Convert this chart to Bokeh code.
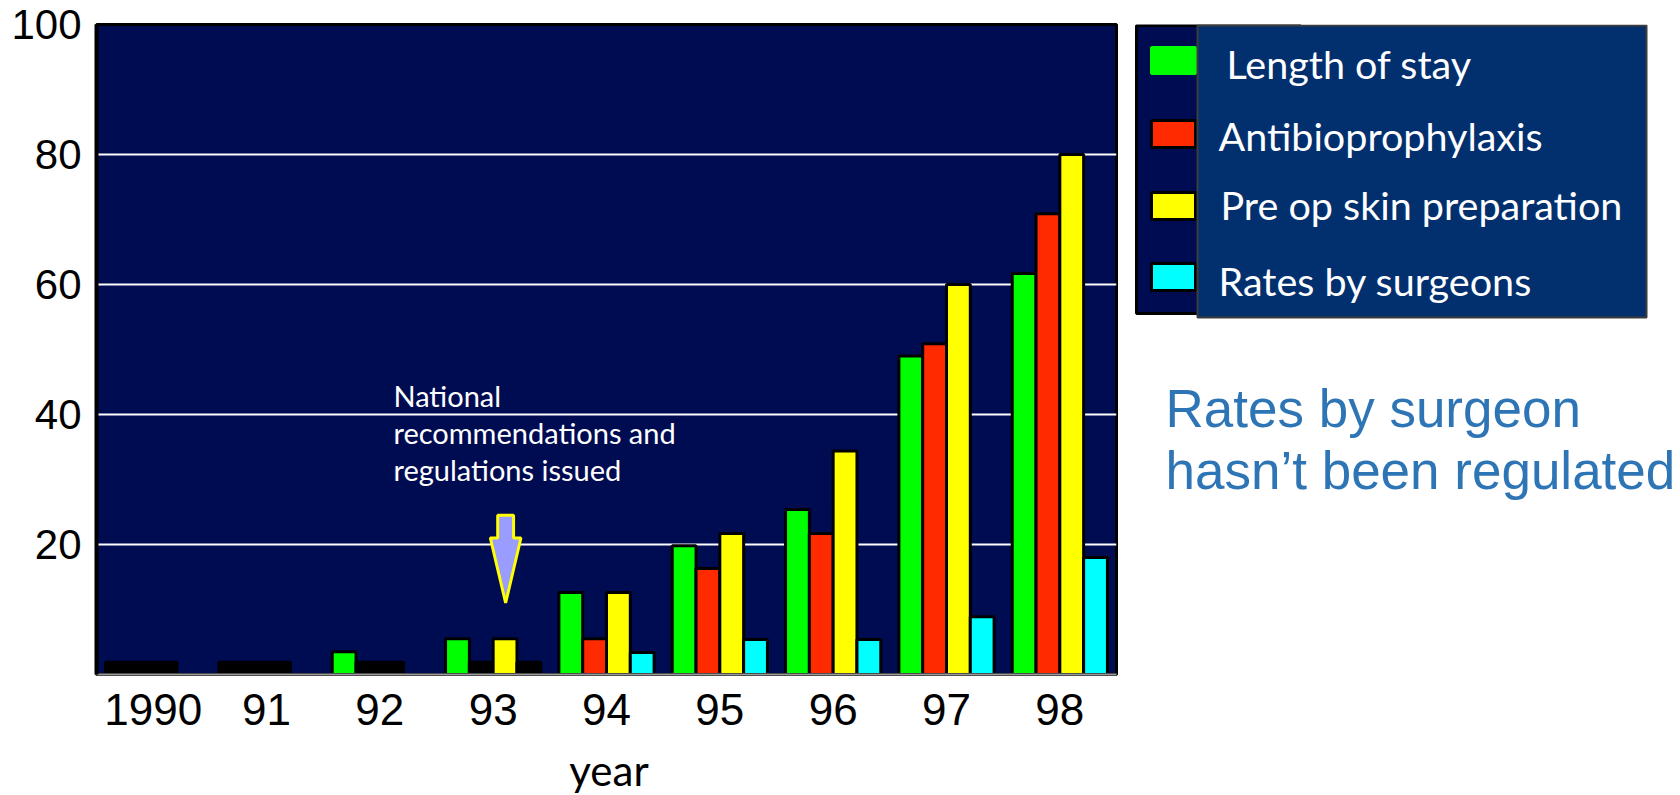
import numpy as np
from bokeh.plotting import figure
from bokeh.layouts import row, column
from bokeh.models import Range1d, FixedTicker, Div
from bokeh.core.properties import value
from bokeh.embed import file_html
from bokeh.resources import INLINE

# ---- data -------------------------------------------------------------
years = ["1990", "91", "92", "93", "94", "95", "96", "97", "98"]
series_names = ["Length of stay", "Antibioprophylaxis",
                "Pre op skin preparation", "Rates by surgeons"]
series_colors = ["#00ff00", "#ff2a00", "#ffff00", "#00ffff"]

# None = not measured (no bar), 0 = measured zero (short black stub)
length_of_stay = [0, 0, 3.5, 5.5, 12.6, 19.8, 25.4, 49.0, 61.7]
antibioprophylaxis = [0, 0, 0, 0, 5.5, 16.3, 21.7, 50.9, 70.9]
skin_preparation = [0, 0, 0, 5.5, 12.6, 21.7, 34.4, 60.0, 80.0]
surgeon_rates = [None, None, None, 0, 3.4, 5.4, 5.4, 8.9, 18.0]

y_ticks = [20, 40, 60, 80, 100]
grid_values = [20, 40, 60, 80]

x_title = "year"
note_lines = ["National", "recommendations and", "regulations issued"]
side_lines = ["Rates by surgeon", "hasn\u2019t been regulated"]

# ---- style ------------------------------------------------------------
NAVY = "#000c52"
BAR_W = 0.21
ZERO_STUB = 1.9
TICK_FONT = "Liberation Sans"
TEXT_FONT = "Lato"

W = 1680
MAIN_W = 1126
PLOT_H = 740          # chart rows; the axis title sits in a strip below
TITLE_H = 55
FRAME_TOP, FRAME_BOTTOM = 24, 674

p = figure(width=MAIN_W, height=PLOT_H, x_range=Range1d(-0.5, 8.5), y_range=Range1d(0, 100),
           output_backend="svg", toolbar_location=None,
           min_border_left=96, min_border_right=10,
           min_border_top=FRAME_TOP, min_border_bottom=PLOT_H - FRAME_BOTTOM)
p.background_fill_color = NAVY
p.border_fill_color = "white"
p.outline_line_color = "black"
p.outline_line_width = 3

p.xgrid.grid_line_color = None
p.ygrid.ticker = FixedTicker(ticks=grid_values)
p.ygrid.grid_line_color = "white"
p.ygrid.grid_line_width = 2

p.yaxis.ticker = FixedTicker(ticks=y_ticks)
p.yaxis.major_label_text_font = TICK_FONT
p.yaxis.major_label_text_font_size = "42px"
p.yaxis.major_label_text_color = "black"
p.yaxis.major_tick_line_color = None
p.yaxis.minor_tick_line_color = None
p.yaxis.axis_line_color = "black"
p.yaxis.axis_line_width = 4
p.yaxis.major_label_standoff = 9

p.xaxis.ticker = FixedTicker(ticks=list(range(len(years))))
p.xaxis.major_label_overrides = {i: y for i, y in enumerate(years)}
p.xaxis.major_label_text_font = TICK_FONT
p.xaxis.major_label_text_font_size = "44px"
p.xaxis.major_label_text_color = "black"
p.xaxis.major_tick_line_color = None
p.xaxis.minor_tick_line_color = None
p.xaxis.axis_line_color = "#9a9a9a"
p.xaxis.axis_line_width = 2
p.xaxis.major_label_standoff = 13

# ---- grouped bars -----------------------------------------------------
series = [length_of_stay, antibioprophylaxis, skin_preparation, surgeon_rates]
offsets = (np.arange(len(series)) - 1.5) * BAR_W
for j, (vals, col) in enumerate(zip(series, series_colors)):
    xs, tops, fills = [], [], []
    for i, v in enumerate(vals):
        if v is None:
            continue
        xs.append(i + offsets[j])
        if v == 0:
            tops.append(ZERO_STUB)
            fills.append("black")
        else:
            tops.append(v)
            fills.append(col)
    p.vbar(x=xs, top=tops, bottom=0, width=BAR_W, fill_color=fills,
           line_color="black", line_width=3)

# ---- annotation: regulations issued in 1993 ---------------------------
arrow_year = years.index("93")
ax = arrow_year + 0.11
arrow_top, arrow_shoulder, arrow_tip = 24.5, 21.0, 11.0
shaft, head = 0.07, 0.135
p.patch(x=[ax - shaft, ax + shaft, ax + shaft, ax + head, ax, ax - head, ax - shaft, ax - shaft],
        y=[arrow_top, arrow_top, arrow_shoulder, arrow_shoulder, arrow_tip, arrow_shoulder,
           arrow_shoulder, arrow_top],
        fill_color="#9a9cff", line_color="#ffff00", line_width=3)

note_x = arrow_year - 0.88
note_y = [42.9, 37.2, 31.5]
p.text(x=[note_x] * len(note_lines), y=note_y, text=note_lines,
       text_font=value(TEXT_FONT), text_font_size="29px", text_color="white",
       text_baseline="alphabetic", text_align="left")

# ---- side panel: legend and remark (pixel-like coordinates) ------------
side = figure(width=W - MAIN_W, height=PLOT_H,
              x_range=Range1d(MAIN_W, W), y_range=Range1d(FRAME_BOTTOM, FRAME_TOP),
              output_backend="svg", toolbar_location=None,
              x_axis_location=None, y_axis_location=None,
              min_border_left=0, min_border_right=0,
              min_border_top=FRAME_TOP, min_border_bottom=PLOT_H - FRAME_BOTTOM)
side.grid.grid_line_color = None
side.outline_line_color = None
side.background_fill_color = "white"
side.border_fill_color = "white"

# back panel with colour swatches
side.quad(left=[1136], right=[1300], top=[25], bottom=[313],
          fill_color=NAVY, line_color="black", line_width=3)
sw_top = [47, 120, 192, 263]
sw_bot = [73, 147, 219, 290]
sw_lines = ["#00ff00", "black", "black", "black"]
side.quad(left=[1151] * 4, right=[1195] * 4, top=sw_top, bottom=sw_bot,
          fill_color=series_colors, line_color=sw_lines, line_width=3)

# front panel with series names
side.quad(left=[1197], right=[1646], top=[25], bottom=[317],
          fill_color="#02306f", line_color="#3c3c3c", line_width=2)
side.text(x=[1226, 1218, 1220, 1218], y=[63, 135, 204, 280], text=series_names,
          text_font=value(TEXT_FONT), text_font_size="39.5px", text_color="white",
          text_baseline="alphabetic", text_align="left")

side.text(x=[1165, 1165], y=[408, 470], text=side_lines,
          text_font=value(TICK_FONT), text_font_size="53px", text_color="#2e75b6",
          text_baseline="alphabetic", text_align="left")

# x-axis title strip, centred under the plot frame
title_div = Div(
    text=(f'<div style="width:{2 * 609}px;text-align:center;font-family:Lato;'
          f'font-size:42px;line-height:55px;padding-top:3px;color:black;">{x_title}</div>'),
    width=W, height=TITLE_H, margin=0)

layout = column(row(p, side, spacing=0), title_div, spacing=0)
open("out.html", "w").write(file_html(layout, INLINE))
